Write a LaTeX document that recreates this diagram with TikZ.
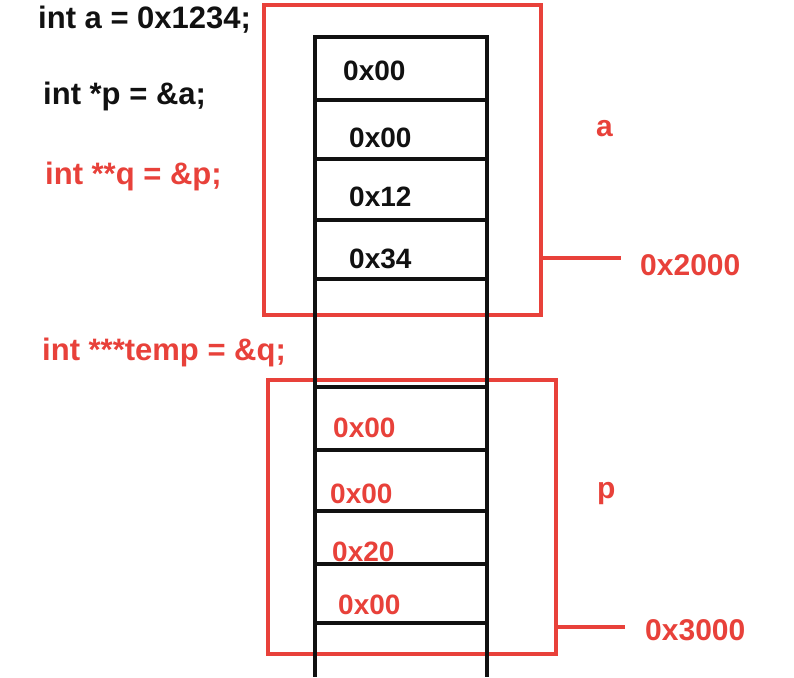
\documentclass[tikz,border=0pt]{standalone}
\usepackage{fontspec}
\setmainfont{Liberation Sans}
\usepackage{xcolor}
\usepackage{tikz}
\usetikzlibrary{positioning}
\definecolor{kred}{HTML}{E8413A}
\definecolor{kink}{HTML}{111111}

\begin{document}
\begin{tikzpicture}[x=1pt, y=-1pt]
\useasboundingbox (0,0) rectangle (794,677);
\fill[white] (0,0) rectangle (794,677);
\tikzset{
  codetxt/.style={font=\fontsize{31}{36}\selectfont\bfseries, anchor=base west, inner sep=0pt},
  celltxt/.style={font=\fontsize{28}{33}\selectfont\bfseries, anchor=base west, inner sep=0pt},
  adrtxt/.style={font=\fontsize{30}{35}\selectfont\bfseries, text=kred, anchor=base west, inner sep=0pt},
  redbox/.style={draw=kred, line width=3.6pt, inner sep=0pt},
  redline/.style={draw=kred, line width=3.6pt},
  memline/.style={draw=kink, line width=3.6pt}
}
% source lines
\node[codetxt, text=kink] (defa) at (38,29) {int a = 0x1234;};
\node[codetxt, text=kink] (defp) at (43,104) {int *p = \&a;};
\node[codetxt, text=kred] (defq) at (45,184) {int **q = \&p;};
\node[codetxt, text=kred] (deft) at (42,360) {int ***temp = \&q;};

% red frames round the variables
\node[redbox, minimum width=277pt, minimum height=310pt] (boxa) at (402.5,160) {};
\node[redbox, minimum width=288pt, minimum height=274pt] (boxp) at (412,517) {};

% memory column
\draw[memline] (315,37) -- (315,677);
\draw[memline] (487,37) -- (487,677);
\foreach \y in {37,100,159,220,279,387,450,511,564,623}
  \draw[memline] (313,\y) -- (489,\y);

% bytes of a
\node[celltxt, text=kink] (a0) at (343,81) {0x00};
\node[celltxt, text=kink] (a1) at (349,147) {0x00};
\node[celltxt, text=kink] (a2) at (349,206) {0x12};
\node[celltxt, text=kink] (a3) at (349,268) {0x34};

% bytes of p
\node[celltxt, text=kred] (p0) at (333,437) {0x00};
\node[celltxt, text=kred] (p1) at (330,503) {0x00};
\node[celltxt, text=kred] (p2) at (332,561) {0x20};
\node[celltxt, text=kred] (p3) at (338,614) {0x00};

% names and addresses
\node[adrtxt] (nma) at (596,136) {a};
\node[adrtxt] (nmp) at (597,498) {p};
\node[adrtxt] (adra) at (640,275) {0x2000};
\node[adrtxt] (adrp) at (645,640) {0x3000};
\coordinate (tapa) at (621,258);
\coordinate (tapp) at (625,627);
\draw[redline] (boxa.east |- tapa) -- (tapa);
\draw[redline] (boxp.east |- tapp) -- (tapp);
\end{tikzpicture}
\end{document}
